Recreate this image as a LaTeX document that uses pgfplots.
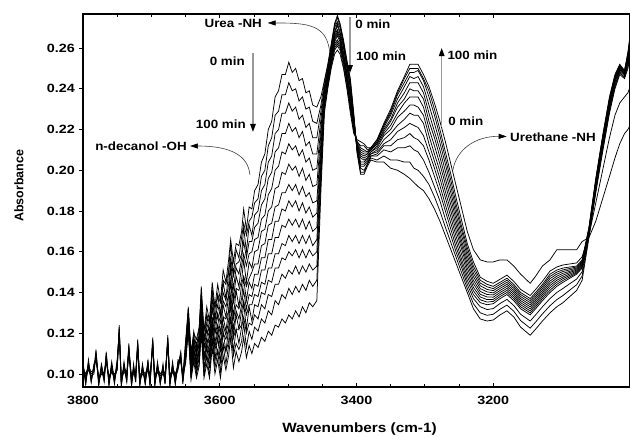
\documentclass[border=0pt]{standalone}
\usepackage{fontspec}
\setmainfont{Liberation Sans}
\usepackage{pgfplots}
\pgfplotsset{compat=1.18}
\usepackage{pgfplotstable}
\usetikzlibrary{arrows.meta}

\pgfplotstableread{
x c0 c1 c2 c3 c4 c5 c6 c7 c8 c9 c10 c11 c12 c13
3800 .105 nan .102 nan nan .104 nan nan .101 nan nan .103 nan .106
3796 .096 nan .099 nan nan .095 nan nan .098 nan nan .100 nan .095
3792 .106 nan .103 nan nan .105 nan nan .102 nan nan .104 nan .107
3788 .097 nan .100 nan nan .096 nan nan .099 nan nan .101 nan .096
3784 .104 nan .101 nan nan .103 nan nan .100 nan nan .102 nan .105
3781 .108 nan .111 nan nan .107 nan nan .110 nan nan .112 nan .107
3777 .098 nan .095 nan nan .097 nan nan .094 nan nan .096 nan .099
3773 .101 nan .104 nan nan .100 nan nan .103 nan nan .105 nan .100
3769 .100 nan .097 nan nan .099 nan nan .096 nan nan .098 nan .101
3766 .107 nan .110 nan nan .106 nan nan .109 nan nan .111 nan .106
3762 .098 nan .095 nan nan .097 nan nan .094 nan nan .096 nan .099
3758 .102 nan .105 nan nan .101 nan nan .104 nan nan .106 nan .101
3754 .099 nan .096 nan nan .098 nan nan .095 nan nan .097 nan .100
3750 .103 nan .106 nan nan .102 nan nan .105 nan nan .107 nan .102
3747 .123 nan .120 nan nan .122 nan nan .119 nan nan .121 nan .124
3744 .095 nan .098 nan nan .094 nan nan .097 nan nan .099 nan .094
3740 .105 nan .102 nan nan .104 nan nan .101 nan nan .103 nan .106
3736 .097 nan .100 nan nan .096 nan nan .099 nan nan .101 nan .096
3733 .114 nan .111 nan nan .113 nan nan .110 nan nan .112 nan .115
3729 .095 nan .098 nan nan .094 nan nan .097 nan nan .099 nan .094
3726 .104 nan .101 nan nan .103 nan nan .100 nan nan .102 nan .105
3723 .097 nan .100 nan nan .096 nan nan .099 nan nan .101 nan .096
3720 .116 nan .113 nan nan .115 nan nan .112 nan nan .114 nan .117
3717 .095 nan .098 nan nan .094 nan nan .097 nan nan .099 nan .094
3713 .104 nan .101 nan nan .103 nan nan .100 nan nan .102 nan .105
3709 .096 nan .099 nan nan .095 nan nan .098 nan nan .100 nan .095
3705 .106 nan .103 nan nan .105 nan nan .102 nan nan .104 nan .107
3702 .095 nan .098 nan nan .094 nan nan .097 nan nan .099 nan .094
3698 .117 nan .114 nan nan .116 nan nan .113 nan nan .115 nan .118
3695 .095 nan .098 nan nan .094 nan nan .097 nan nan .099 nan .094
3691 .105 nan .102 nan nan .104 nan nan .101 nan nan .103 nan .106
3687 .096 nan .099 nan nan .095 nan nan .098 nan nan .100 nan .095
3683 .104 nan .101 nan nan .103 nan nan .100 nan nan .102 nan .105
3680 .096 nan .099 nan nan .095 nan nan .098 nan nan .100 nan .095
3676 .118 nan .115 nan nan .117 nan nan .114 nan nan .116 nan .119
3673 .095 nan .098 nan nan .094 nan nan .097 nan nan .099 nan .094
3669 .105 nan .102 nan nan .104 nan nan .101 nan nan .103 nan .106
3665 .096 nan .099 nan nan .095 nan nan .098 nan nan .100 nan .095
3661 .106 nan .103 nan nan .105 nan nan .102 nan nan .104 nan .107
3657 .107 nan .110 nan nan .106 nan nan .109 nan nan .111 nan .106
3654 .099 nan .096 nan nan .098 nan nan .095 nan nan .097 nan .100
3650 .116 .113 .115 .113 .111 .112 .108 .111 .109 .107 .110 .106 .107 .105
3646 .132 .133 .129 .130 .130 .127 .129 .126 .126 .126 .122 .125 .122 .121
3642 .111 .108 .110 .107 .105 .106 .102 .104 .102 .100 .102 .098 .099 .097
3638 .120 .121 .117 .118 .117 .114 .116 .112 .112 .112 .108 .110 .107 .106
3634 .117 .113 .115 .111 .109 .110 .105 .107 .105 .103 .104 .100 .101 .098
3630 .123 .123 .119 .119 .119 .115 .116 .112 .112 .111 .107 .109 .105 .104
3627 .143 .139 .140 .137 .134 .134 .129 .131 .128 .126 .128 .123 .123 .120
3623 .121 .121 .116 .116 .116 .112 .113 .108 .107 .107 .102 .103 .099 .098
3619 .133 .129 .129 .125 .122 .122 .117 .118 .115 .112 .114 .109 .109 .105
3615 .126 .125 .120 .120 .118 .114 .115 .110 .109 .108 .103 .104 .099 .098
3611 .145 .141 .141 .137 .133 .133 .127 .128 .125 .122 .123 .118 .117 .113
3607 .133 .132 .127 .126 .124 .120 .120 .115 .113 .112 .107 .107 .103 .100
3603 .144 .139 .139 .134 .130 .129 .124 .124 .121 .117 .118 .112 .111 .107
3599 .136 .135 .129 .128 .125 .120 .120 .115 .113 .111 .106 .106 .101 .098
3595 .151 .146 .145 .140 .136 .134 .128 .128 .124 .120 .121 .115 .114 .109
3591 .145 .144 .137 .136 .133 .128 .127 .121 .119 .117 .111 .111 .105 .102
3587 .156 .151 .150 .144 .139 .138 .131 .131 .126 .122 .122 .116 .114 .109
3584 .166 .164 .157 .155 .152 .146 .146 .139 .137 .134 .128 .128 .122 .118
3580 .155 .149 .148 .142 .137 .135 .128 .127 .122 .118 .118 .111 .109 .103
3576 .164 .161 .154 .152 .148 .142 .141 .134 .131 .129 .122 .122 .115 .111
3572 .163 .157 .155 .149 .143 .141 .133 .132 .127 .122 .122 .115 .112 .106
3568 .170 .167 .159 .157 .153 .146 .144 .137 .134 .131 .124 .123 .116 .111
3565 .181 .174 .172 .165 .159 .156 .148 .147 .141 .136 .135 .128 .125 .118
3561 .171 .168 .160 .157 .153 .145 .143 .136 .132 .129 .122 .120 .113 .108
3557 .182 .175 .173 .165 .159 .155 .147 .145 .139 .134 .133 .125 .121 .114
3553 .181 .177 .168 .165 .160 .152 .150 .142 .138 .134 .126 .124 .117 .110
3549 .190 .184 .178 .172 .166 .160 .154 .149 .144 .139 .134 .129 .123 .115
3544 .193 .186 .180 .174 .167 .161 .154 .149 .143 .138 .133 .127 .121 .113
3539 .204 .197 .190 .183 .176 .170 .163 .157 .151 .145 .140 .134 .127 .118
3534 .208 .200 .193 .186 .178 .171 .164 .157 .151 .144 .139 .132 .125 .116
3529 .220 .212 .204 .196 .188 .180 .173 .166 .159 .152 .146 .139 .131 .121
3524 .224 .216 .207 .199 .191 .182 .174 .166 .159 .152 .145 .138 .129 .119
3519 .236 .227 .218 .209 .200 .191 .182 .175 .167 .159 .152 .144 .136 .124
3514 .239 .229 .220 .211 .202 .192 .183 .175 .167 .159 .152 .144 .134 .123
3509 .247 .237 .228 .218 .209 .199 .189 .181 .173 .164 .157 .149 .139 .127
3504 .247 .237 .228 .218 .208 .198 .189 .180 .172 .163 .156 .147 .137 .125
3499 .253 .243 .233 .223 .213 .203 .193 .185 .176 .168 .160 .151 .142 .129
3494 .248 .239 .229 .219 .210 .200 .190 .182 .173 .165 .158 .149 .139 .127
3489 .250 .240 .231 .221 .212 .202 .193 .185 .176 .168 .161 .153 .143 .131
3484 .244 .234 .225 .216 .207 .197 .188 .180 .172 .164 .157 .149 .140 .128
3479 .245 .236 .227 .219 .210 .201 .192 .184 .176 .168 .161 .153 .144 .133
3474 .238 .230 .221 .212 .204 .195 .187 .179 .171 .164 .157 .150 .141 .130
3469 .239 .231 .223 .214 .206 .198 .189 .182 .175 .168 .161 .154 .146 .135
3464 .232 .224 .216 .208 .200 .192 .184 .177 .170 .163 .158 .151 .143 .133
3458 .231 .223 .216 .208 .201 .193 .185 .179 .172 .166 .160 .153 .146 .136
3452 .236 .232 .229 .225 .221 .218 .214 .211 .208 .204 .202 .198 .195 .190
3447 .244 .243 .241 .240 .239 .238 .236 .235 .234 .233 .232 .231 .230 .228
3442 .252 .251 .250 .249 .248 .247 .246 .245 .245 .244 .243 .242 .241 .240
3437 .262 .261 .260 .259 .258 .257 .256 .255 .255 .254 .253 .252 .251 .250
3432 .272 .271 .270 .268 .267 .266 .265 .264 .263 .262 .261 .260 .259 .257
3428 .276 .275 .273 .272 .271 .269 .268 .267 .266 .264 .263 .262 .261 .259
3424 .272 .271 .270 .268 .267 .266 .265 .264 .263 .262 .261 .260 .259 .257
3419 .264 .263 .262 .261 .260 .258 .257 .256 .255 .254 .254 .253 .251 .250
3414 .254 .253 .252 .251 .250 .248 .247 .246 .245 .244 .244 .243 .241 .240
3409 .245 .244 .242 .241 .240 .238 .237 .236 .235 .233 .232 .231 .230 .228
3404 .228 .227 .226 .226 .225 .224 .223 .223 .222 .221 .221 .220 .219 .218
3399 .208 .209 .209 .210 .210 .211 .211 .212 .212 .213 .213 .214 .214 .215
3394 .198 .199 .201 .202 .203 .204 .206 .207 .208 .209 .210 .211 .212 .214
3389 .198 .199 .200 .202 .203 .204 .205 .206 .207 .208 .209 .210 .212 .213
3384 .202 .203 .203 .204 .205 .206 .206 .207 .208 .208 .209 .209 .210 .211
3379 .205 .206 .207 .207 .208 .208 .209 .209 .210 .210 .210 .211 .211 .211
3370 .204 .205 .207 .208 .209 .210 .211 .212 .213 .213 .214 .214 .215 .215
3360 .204 .207 .210 .212 .213 .215 .217 .218 .219 .220 .221 .222 .222 .223
3350 .201 .205 .209 .212 .215 .218 .220 .222 .224 .225 .227 .228 .229 .230
3340 .200 .205 .211 .215 .219 .222 .226 .228 .231 .233 .235 .237 .238 .239
3330 .198 .204 .211 .216 .221 .225 .229 .233 .235 .238 .241 .243 .245 .246
3322 .196 .204 .212 .218 .223 .228 .232 .236 .240 .243 .246 .248 .250 .252
3316 .194 .201 .210 .216 .222 .227 .232 .236 .239 .243 .245 .248 .250 .252
3310 .192 .200 .209 .215 .221 .227 .231 .236 .239 .243 .246 .249 .250 .252
3302 .190 .197 .205 .212 .217 .223 .227 .231 .235 .238 .241 .244 .245 .247
3294 .186 .193 .199 .205 .209 .213 .217 .2205 .224 .228 .232 .236 .239 .241
3286 .181 .187 .192 .197 .201 .2045 .208 .212 .216 .219 .223 .227 .230 .233
3278 .175 .180 .185 .189 .1925 .196 .1995 .203 .2065 .210 .2135 .217 .220 .224
3270 .168 .172 .176 .180 .183 .1865 .1895 .193 .196 .1995 .203 .206 .209 .214
3262 .161 .1645 .168 .171 .174 .177 .180 .183 .186 .189 .192 .195 .198 .203
3254 .154 .157 .1595 .162 .1646 .1672 .1699 .1725 .1751 .1777 .1804 .183 .186 .192
3246 .147 .1495 .152 .154 .156 .1585 .161 .163 .165 .1675 .170 .172 .175 .181
3238 .140 .142 .144 .146 .148 .150 .152 .154 .156 .158 .160 .162 .164 .170
3229 .132 .1345 .137 .139 .1408 .1425 .1443 .146 .1478 .1495 .1513 .153 .155 .161
3219 .127 .130 .133 .135 .1364 .1378 .1391 .1405 .1419 .1433 .1446 .146 .1475 .156
3209 .126 .1288 .1316 .134 .1353 .1365 .1378 .139 .1403 .1415 .1428 .144 .1455 .155
3200 .1265 .1293 .1321 .1345 .1356 .1366 .1377 .1388 .1398 .1409 .1419 .143 .1445 .155
3190 .129 .1318 .1346 .137 .138 .139 .140 .141 .142 .143 .144 .145 .1465 .156
3180 .131 .1338 .1366 .139 .140 .141 .142 .143 .144 .145 .146 .147 .1485 .156
3170 .128 .1308 .1336 .136 .137 .138 .139 .140 .141 .142 .143 .144 .1455 .153
3160 .123 .1262 .1293 .132 .133 .134 .135 .136 .137 .138 .139 .140 .1415 .149
3146 .119 .1225 .126 .129 .130 .131 .132 .133 .134 .135 .136 .137 .1385 .1445
3138 .122 .1255 .129 .132 .133 .134 .135 .136 .137 .138 .139 .140 .1415 .148
3128 .126 .1295 .133 .136 .137 .138 .139 .140 .141 .142 .143 .144 .1455 .153
3117 .130 .1335 .137 .140 .1411 .1423 .1434 .1445 .1456 .1468 .1479 .149 .1505 .156
3107 .133 .1365 .140 .143 .144 .145 .146 .147 .148 .149 .150 .151 .1525 .161
3098 .135 .1385 .142 .145 .1459 .1468 .1476 .1485 .1494 .1503 .1511 .152 .1535 .161
3088 .138 .1412 .1443 .147 .1477 .1484 .1491 .1498 .1504 .1511 .1518 .1525 .154 .161
3078 .141 .1438 .1466 .149 .1495 .150 .1505 .151 .1515 .152 .1525 .153 .1545 .161
3070 .146 .1481 .1502 .152 .1525 .153 .1535 .154 .1545 .155 .1555 .156 .1575 .165
3060 .167 .1677 .1684 .169 .1694 .1698 .1701 .1705 .1709 .1713 .1716 .172 .168 .167
3050 .189 .190 .191 .192 .1925 .193 .1935 .194 .1945 .195 .1955 .196 .184 .175
3040 .209 .210 .211 .212 .2126 .2133 .2139 .2145 .2151 .2158 .2164 .217 .200 .186
3030 .228 .229 .230 .231 .2316 .2323 .2329 .2335 .2341 .2348 .2354 .236 .216 .197
3022 .240 .241 .242 .243 .2435 .244 .2445 .245 .2455 .246 .2465 .247 .227 .206
3015 .247 .2477 .2484 .249 .2494 .2498 .2501 .2505 .2509 .2513 .2516 .252 .233 .213
3008 .245 .2457 .2464 .247 .2473 .2475 .2478 .248 .2483 .2485 .2488 .249 .236 .218
3003 .250 .251 .252 .253 .2536 .2543 .2549 .2555 .2561 .2568 .2574 .258 .238 .220
3000 .256 .257 .258 .259 .2599 .2608 .2616 .2625 .2634 .2643 .2651 .266 .241 .222
}\spectra

\tikzset{
  annot/.style={font=\bfseries\fontsize{12}{14}\selectfont, xscale=1.12, inner sep=0pt},
  grayarrow/.style={black!40, line width=1.4pt, -{Triangle[color=black, length=8bp, width=5.5bp]}},
  curvearrow/.style={black!75, line width=0.6pt, -{Triangle[color=black, length=8bp, width=5bp]}}
}

\begin{document}
\begin{tikzpicture}
\path[use as bounding box] (-83bp,-50bp) rectangle (547bp,387bp);
\begin{axis}[
  scale only axis,
  width=547bp, height=373bp,
  xmin=3000, xmax=3800, x dir=reverse,
  ymin=0.0936, ymax=0.2767,
  xtick={3200,3400,3600,3800},
  minor x tick num=3,
  ytick={0.10,0.12,0.14,0.16,0.18,0.20,0.22,0.24,0.26},
  /pgf/number format/set thousands separator={},
  yticklabel style={/pgf/number format/.cd, fixed, fixed zerofill, precision=2},
  /pgf/number format/assume math mode=true,
  tick label style={font=\bfseries\fontsize{12}{14}\selectfont, xscale=1.2},
  xticklabel style={yshift=-6bp},
  xtick align=inside, ytick align=outside,
  major tick length=4bp, minor tick length=3bp,
  every tick/.style={black, line width=0.8pt},
  axis line style={line width=1.2pt},
  clip mode=individual,
]
\pgfplotsinvokeforeach{0,...,13}{
  \addplot[black, line width=0.75pt, mark=none] table[x=x, y=c#1] {\spectra};
}
% axis titles
\node[font=\bfseries\fontsize{13.5}{15}\selectfont, xscale=1.14] at (axis cs:3395.6,0.0730) {Wavenumbers (cm-1)};
\node[font=\bfseries\fontsize{12.5}{14}\selectfont, rotate=90] at (axis cs:3893.6,0.1923) {Absorbance};
% urea
\node[annot, anchor=east] at (axis cs:3538,0.2723) {Urea -NH};
\draw[curvearrow] (axis cs:3439,0.2575) .. controls (axis cs:3443,0.2715) and (axis cs:3470,0.2723) .. (axis cs:3530,0.2723);
\draw[grayarrow] (axis cs:3409.5,0.2752) -- (axis cs:3409.5,0.2477);
\node[annot, anchor=west] at (axis cs:3402,0.2718) {0 min};
\node[annot, anchor=west] at (axis cs:3400.7,0.2561) {100 min};
% OH
\draw[grayarrow] (axis cs:3551.4,0.2575) -- (axis cs:3551.4,0.2188);
\node[annot, anchor=east] at (axis cs:3563,0.2536) {0 min};
\node[annot, anchor=east] at (axis cs:3561.6,0.2227) {100 min};
\node[annot, anchor=east] at (axis cs:3647.9,0.2119) {n-decanol -OH};
\draw[curvearrow] (axis cs:3555.8,0.1977) .. controls (axis cs:3558.7,0.2075) and (axis cs:3585,0.2119) .. (axis cs:3643.5,0.2119);
% urethane
\draw[grayarrow] (axis cs:3275.4,0.2212) -- (axis cs:3275.4,0.2600);
\node[annot, anchor=west] at (axis cs:3267.2,0.2566) {100 min};
\node[annot, anchor=west] at (axis cs:3266,0.2242) {0 min};
\node[annot, anchor=west] at (axis cs:3175.5,0.2163) {Urethane -NH};
\draw[curvearrow] (axis cs:3258.9,0.2001) .. controls (axis cs:3254.5,0.2099) and (axis cs:3226.7,0.2168) .. (axis cs:3180.3,0.2166);
\end{axis}
\end{tikzpicture}
\end{document}
